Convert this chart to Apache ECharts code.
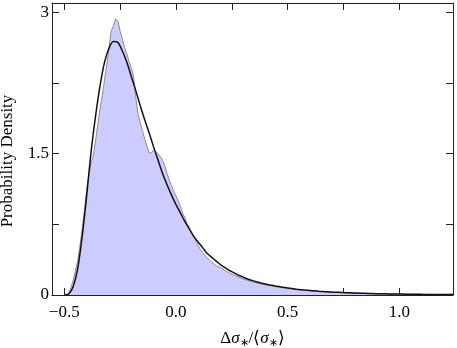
<!DOCTYPE html>
<html>
<head>
<meta charset="utf-8">
<script src="https://cdn.jsdelivr.net/npm/echarts@6/dist/echarts.min.js"></script>
<style>
  html, body { margin: 0; padding: 0; background: #fff; }
  #chart { width: 457px; height: 348px; }
</style>
</head>
<body>
<div id="chart"></div>
<script>
// histogram densities, 0.01 wide bins from -0.50 to 0.20
const histFine = [
  0, 0, 0.02, 0.08, 0.16, 0.26, 0.36, 0.52, 0.70, 0.90,
  1.12, 1.28, 1.40, 1.48, 1.64, 1.81, 1.98, 2.12, 2.28, 2.44,
  2.62, 2.80, 2.86, 2.93, 2.91, 2.80, 2.72, 2.63, 2.56, 2.48,
  2.41, 2.33, 2.10, 1.92, 1.83, 1.74, 1.66, 1.58, 1.51, 1.51,
  1.54, 1.52, 1.50, 1.47, 1.43, 1.37, 1.29, 1.22, 1.16, 1.10,
  1.05, 1.00, 0.94, 0.87, 0.82, 0.76, 0.71, 0.66, 0.62, 0.57,
  0.52, 0.48, 0.45, 0.42, 0.39, 0.37, 0.35, 0.33, 0.31, 0.30, 0.29
];
// tail of the histogram, 0.02 wide bins from 0.22 to 1.24
const histTail = [
  0.26, 0.23, 0.21, 0.19, 0.17, 0.155, 0.14, 0.13, 0.118, 0.108,
  0.099, 0.09, 0.083, 0.076, 0.069, 0.063, 0.058, 0.053, 0.049, 0.045,
  0.041, 0.038, 0.035, 0.032, 0.029, 0.027, 0.025, 0.023, 0.021, 0.019,
  0.018, 0.016, 0.015, 0.014, 0.013, 0.012, 0.011, 0.010, 0.009, 0.009,
  0.008, 0.008, 0.007, 0.007, 0.006, 0.006, 0.005, 0.005, 0.005, 0.004,
  0.004, 0.004
];
// fitted curve, every 0.02 from -0.50 to 1.24
const fitCurve = [
  0, 0.01, 0.09, 0.28, 0.62, 1.05, 1.52, 1.90, 2.22, 2.47,
  2.62, 2.69, 2.68, 2.59, 2.47, 2.32, 2.17, 2.01, 1.86, 1.72,
  1.57, 1.43, 1.29, 1.17, 1.06, 0.96, 0.87, 0.78, 0.70, 0.62,
  0.56, 0.50, 0.44, 0.40, 0.36, 0.32, 0.29, 0.26, 0.235, 0.21,
  0.19, 0.17, 0.155, 0.14, 0.128, 0.117, 0.107, 0.098, 0.090, 0.082,
  0.075, 0.068, 0.062, 0.057, 0.052, 0.048, 0.044, 0.040, 0.037, 0.034,
  0.031, 0.029, 0.027, 0.025, 0.023, 0.021, 0.019, 0.018, 0.017, 0.015,
  0.014, 0.013, 0.012, 0.011, 0.010, 0.010, 0.009, 0.008, 0.008, 0.007,
  0.007, 0.006, 0.006, 0.005, 0.005, 0.005, 0.004, 0.004
];

const xTicks = [-0.5, -0.25, 0, 0.25, 0.5, 0.75, 1.0];
const xLabels = [-0.5, 0, 0.5, 1.0];
const yTicks = [0, 0.75, 1.5, 2.25, 3];
const yLabels = [0, 1.5, 3];

const histData = [];
histFine.forEach((v, i) => histData.push([+(-0.50 + i * 0.01).toFixed(2), v]));
histTail.forEach((v, i) => histData.push([+(0.22 + i * 0.02).toFixed(2), v]));
const curveData = fitCurve.map((v, i) => [+(-0.50 + i * 0.02).toFixed(2), v]);

const font = 'Liberation Serif';
const ink = '#222';

function xAxisBase(pos) {
  return {
    type: 'value', position: pos, min: -0.555, max: 1.24,
    axisLine: { onZero: false, lineStyle: { color: ink, width: 1 } },
    axisTick: { inside: true, length: 7, customValues: xTicks, lineStyle: { color: ink } },
    splitLine: { show: false }
  };
}
function yAxisBase(pos) {
  return {
    type: 'value', position: pos, min: 0, max: 3.1,
    axisLine: { show: true, onZero: false, lineStyle: { color: ink, width: 1 } },
    axisTick: { show: true, inside: true, length: 7, customValues: yTicks, lineStyle: { color: ink } },
    splitLine: { show: false }
  };
}

const chart = echarts.init(document.getElementById('chart'));
chart.setOption({
  animation: false,
  grid: { left: 52, right: 4, top: 3, bottom: 53, containLabel: false, outerBoundsMode: 'none' },
  xAxis: [
    Object.assign(xAxisBase('bottom'), {
      axisLabel: {
        customValues: xLabels, margin: 9, fontFamily: font, fontSize: 17, color: '#000',
        formatter: v => (v < 0 ? '\u2212' : '') + Math.abs(v).toFixed(1)
      },
      name: '{n|Δ}{i|σ}{s|∗}{n|/⟨}{i|σ}{s|∗}{n|⟩}',
      nameLocation: 'middle', nameGap: 34,
      nameTextStyle: {
        rich: {
          n: { fontFamily: font, fontSize: 17, color: '#000' },
          i: { fontFamily: font, fontSize: 17, fontStyle: 'italic', color: '#000' },
          s: { fontFamily: font, fontSize: 11, color: '#000', padding: [9, 0, 0, 0] }
        }
      }
    }),
    Object.assign(xAxisBase('top'), { axisLabel: { show: false } })
  ],
  yAxis: [
    Object.assign(yAxisBase('left'), {
      axisLabel: {
        customValues: yLabels, margin: 3, fontFamily: font, fontSize: 17, color: '#000',
        formatter: v => String(v)
      },
      name: 'Probability Density', nameLocation: 'middle', nameGap: 36,
      nameTextStyle: { fontFamily: font, fontSize: 17, color: '#000', padding: [0, 24, 0, 0] }
    }),
    Object.assign(yAxisBase('right'), { axisLabel: { show: false } })
  ],
  series: [
    {
      type: 'line', data: histData, xAxisIndex: 0, yAxisIndex: 0,
      showSymbol: false, smooth: false,
      lineStyle: { color: '#8a8a9a', width: 1 },
      areaStyle: { color: '#ccccff', opacity: 1, origin: 'start' }
    },
    {
      type: 'line', data: curveData, xAxisIndex: 0, yAxisIndex: 0,
      showSymbol: false, smooth: 0.3,
      lineStyle: { color: '#111', width: 1.5 }
    }
  ]
});
</script>
</body>
</html>
